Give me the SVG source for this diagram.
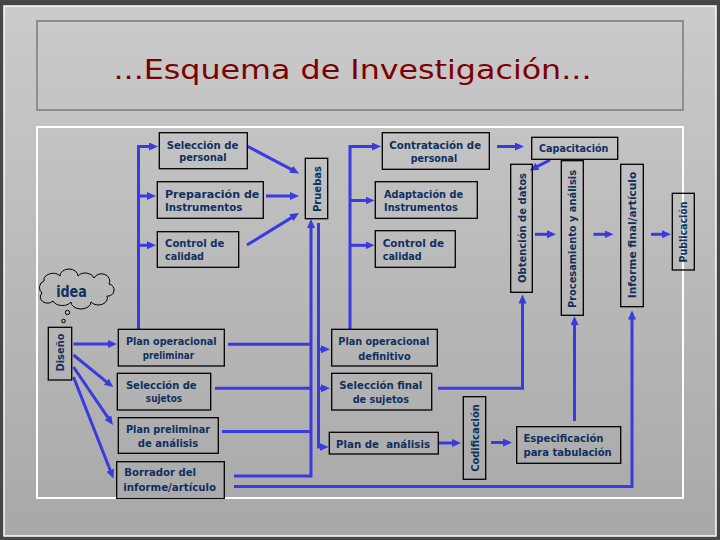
<svg xmlns="http://www.w3.org/2000/svg" width="720" height="540" viewBox="0 0 720 540">
<defs>
<linearGradient id="bg" x1="0" y1="0" x2="0" y2="1">
<stop offset="0" stop-color="#cbcbcb"/>
<stop offset="1" stop-color="#a8a8a8"/>
</linearGradient>
<marker id="ah" markerUnits="userSpaceOnUse" markerWidth="9" markerHeight="8" refX="5" refY="4" orient="auto">
<path d="M0,0 L9,4 L0,8 z" fill="#3a3ae0"/>
</marker>
<style>
.box{fill:none;stroke:#000;stroke-width:1.3}
.t{font-family:"DejaVu Sans","Liberation Sans",sans-serif;font-weight:bold;font-size:10.5px;fill:#10305e}
.c{stroke:#3a3ae0;stroke-width:3;fill:none}
.a{marker-end:url(#ah)}
</style>
</defs>
<rect x="0" y="0" width="720" height="540" fill="#474747"/>
<rect x="4" y="6" width="712" height="530" fill="url(#bg)" stroke="#ffffff" stroke-width="1.5"/>
<g id="title">
<rect x="37" y="21" width="646" height="89" fill="none" stroke="#8e8e8e" stroke-width="2"/>
<text x="352.5" y="79" text-anchor="middle" font-family="'DejaVu Sans',sans-serif" font-size="26" fill="#7d0000" textLength="478" lengthAdjust="spacingAndGlyphs">...Esquema de Investigación...</text>
</g>
<rect id="panel" x="37" y="127" width="646" height="371" fill="none" stroke="#ffffff" stroke-width="2"/>

<g id="connectors">
<path class="c a" d="M138.5,329 V146.5 H154"/>
<path class="c a" d="M138.5,196 H152"/>
<path class="c a" d="M138.5,245.3 H152"/>
<path class="c a" d="M247,146 L295.5,171.6"/>
<path class="c a" d="M266,196 H295"/>
<path class="c a" d="M247,245 L295.6,215.1"/>
<path class="c a" d="M234,476 H311 V223"/>
<path class="c" d="M228,344.3 H311"/>
<path class="c" d="M215,388.3 H311"/>
<path class="c" d="M222,431.5 H311"/>
<path class="c a" d="M318.5,223 V447 H324.5"/>
<path class="c a" d="M318.5,349.3 H326"/>
<path class="c a" d="M318.5,388.3 H326"/>
<path class="c a" d="M350,329 V146.5 H377"/>
<path class="c a" d="M350,200.5 H370.5"/>
<path class="c a" d="M350,245.3 H370.5"/>
<path class="c a" d="M497,146.5 H520"/>
<path class="c a" d="M550,160 L533.1,168.7"/>
<path class="c a" d="M535,234.3 H552"/>
<path class="c a" d="M593.5,234.3 H609.5"/>
<path class="c a" d="M651,234.3 H667"/>
<path class="c a" d="M438,388.3 H522.5 V298.5"/>
<path class="c a" d="M438,443 H457"/>
<path class="c a" d="M491,442.5 H508"/>
<path class="c a" d="M574.5,421 V320"/>
<path class="c a" d="M234,486.5 H632 V314.5"/>
<path class="c a" d="M73.5,344 H113"/>
<path class="c a" d="M73.5,355 L110.2,384.8"/>
<path class="c a" d="M73.5,367 L110.7,421.7"/>
<path class="c a" d="M73.5,377 L112,474.8"/>
</g>

<g id="idea">
<path d="M42,293 a7,7 0 0 1 2,-12 a9,7 0 0 1 16,-5 a9,7 0 0 1 18,0 a9,7 0 0 1 16,2 a8,7 0 0 1 15,6 a6,6 0 0 1 -2,12 a9,7 0 0 1 -16,6 a10,7 0 0 1 -20,0 a10,7 0 0 1 -18,-1 a7,6 0 0 1 -11,-8 z" fill="none" stroke="#000" stroke-width="1"/>
<circle cx="67.5" cy="312.5" r="2.2" fill="none" stroke="#000" stroke-width="1"/>
<circle cx="63.5" cy="321" r="1.8" fill="none" stroke="#000" stroke-width="1"/>
<text class="t" x="71.5" y="297" text-anchor="middle" font-size="15" textLength="30.7" lengthAdjust="spacingAndGlyphs" style="font-size:15px">idea</text>
</g>

<g id="n-diseno">
<rect class="box" x="48.3" y="327.3" width="23.4" height="52.7"/>
<text class="t" transform="translate(64,352.5) rotate(-90)" text-anchor="middle" textLength="38" lengthAdjust="spacingAndGlyphs">Diseño</text>
</g>

<g id="n-seleccion-personal">
<rect class="box" x="159.3" y="132.7" width="88" height="36"/>
<text class="t" x="202.5" y="148.5" text-anchor="middle" textLength="71.7" lengthAdjust="spacingAndGlyphs">Selección de</text>
<text class="t" x="203" y="161" text-anchor="middle" textLength="47.4" lengthAdjust="spacingAndGlyphs">personal</text>
</g>
<g id="n-preparacion">
<rect class="box" x="157.3" y="181.7" width="106" height="36.6"/>
<text class="t" x="165" y="197.5" textLength="94.3" lengthAdjust="spacingAndGlyphs">Preparación de</text>
<text class="t" x="165" y="210.8" textLength="77.3" lengthAdjust="spacingAndGlyphs">Instrumentos</text>
</g>
<g id="n-control1">
<rect class="box" x="157.3" y="231.7" width="81.4" height="35.6"/>
<text class="t" x="165" y="246.8" textLength="59.3" lengthAdjust="spacingAndGlyphs">Control de</text>
<text class="t" x="165" y="260" textLength="39" lengthAdjust="spacingAndGlyphs">calidad</text>
</g>
<g id="n-pruebas">
<rect class="box" x="305.3" y="158.3" width="22.4" height="60.4"/>
<text class="t" transform="translate(320.5,189) rotate(-90)" text-anchor="middle" textLength="46" lengthAdjust="spacingAndGlyphs">Pruebas</text>
</g>
<g id="n-contratacion">
<rect class="box" x="382.3" y="132.7" width="107" height="36.6"/>
<text class="t" x="435.2" y="148.5" text-anchor="middle" textLength="91.7" lengthAdjust="spacingAndGlyphs">Contratación de</text>
<text class="t" x="434" y="161.5" text-anchor="middle" textLength="46.6" lengthAdjust="spacingAndGlyphs">personal</text>
</g>
<g id="n-adaptacion">
<rect class="box" x="375.3" y="181.7" width="102" height="36.6"/>
<text class="t" x="384" y="197.5" textLength="79" lengthAdjust="spacingAndGlyphs">Adaptación de</text>
<text class="t" x="384" y="210.8" textLength="73.7" lengthAdjust="spacingAndGlyphs">Instrumentos</text>
</g>
<g id="n-control2">
<rect class="box" x="375.3" y="230.7" width="80" height="36.6"/>
<text class="t" x="382.7" y="246.5" textLength="61.3" lengthAdjust="spacingAndGlyphs">Control de</text>
<text class="t" x="382.7" y="259.8" textLength="39" lengthAdjust="spacingAndGlyphs">calidad</text>
</g>
<g id="n-capacitacion">
<rect class="box" x="531.7" y="137.3" width="86" height="22"/>
<text class="t" x="573.7" y="152.3" text-anchor="middle" textLength="69.3" lengthAdjust="spacingAndGlyphs">Capacitación</text>
</g>
<g id="n-obtencion">
<rect class="box" x="510.7" y="164.3" width="21.6" height="128"/>
<text class="t" transform="translate(525.5,228) rotate(-90)" text-anchor="middle" textLength="110" lengthAdjust="spacingAndGlyphs">Obtención de datos</text>
</g>
<g id="n-procesamiento">
<rect class="box" x="561.3" y="160.7" width="22" height="154.6"/>
<text class="t" transform="translate(576.3,239) rotate(-90)" text-anchor="middle" textLength="138" lengthAdjust="spacingAndGlyphs">Procesamiento y análisis</text>
</g>
<g id="n-informe">
<rect class="box" x="620.7" y="164.3" width="22.6" height="142.4"/>
<text class="t" transform="translate(636,235) rotate(-90)" text-anchor="middle" textLength="126.6" lengthAdjust="spacingAndGlyphs">Informe final/artículo</text>
</g>
<g id="n-publicacion">
<rect class="box" x="672.3" y="193.3" width="22" height="76.7"/>
<text class="t" transform="translate(687.3,232) rotate(-90)" text-anchor="middle" textLength="61" lengthAdjust="spacingAndGlyphs">Publicación</text>
</g>
<g id="n-plan-op-prelim">
<rect class="box" x="118.3" y="329.3" width="106" height="36.7"/>
<text class="t" x="171.3" y="345" text-anchor="middle" textLength="90.7" lengthAdjust="spacingAndGlyphs">Plan operacional</text>
<text class="t" x="168.4" y="359" text-anchor="middle" textLength="51.3" lengthAdjust="spacingAndGlyphs">preliminar</text>
</g>
<g id="n-seleccion-sujetos">
<rect class="box" x="117.3" y="373.3" width="93.4" height="36.7"/>
<text class="t" x="161.3" y="388.5" text-anchor="middle" textLength="70.7" lengthAdjust="spacingAndGlyphs">Selección de</text>
<text class="t" x="164" y="402" text-anchor="middle" textLength="36.3" lengthAdjust="spacingAndGlyphs">sujetos</text>
</g>
<g id="n-plan-prelim-analisis">
<rect class="box" x="118.3" y="417.7" width="100" height="35.6"/>
<text class="t" x="168" y="432.5" text-anchor="middle" textLength="84" lengthAdjust="spacingAndGlyphs">Plan preliminar</text>
<text class="t" x="168" y="446.5" text-anchor="middle" textLength="60.6" lengthAdjust="spacingAndGlyphs">de análisis</text>
</g>
<g id="n-borrador">
<rect class="box" x="116.7" y="461.7" width="107.6" height="36.6"/>
<text class="t" x="124.3" y="476" textLength="71.7" lengthAdjust="spacingAndGlyphs">Borrador del</text>
<text class="t" x="123.3" y="490.5" textLength="92.7" lengthAdjust="spacingAndGlyphs">informe/artículo</text>
</g>
<g id="n-plan-op-def">
<rect class="box" x="331.7" y="329.3" width="105.6" height="36.7"/>
<text class="t" x="383.8" y="345" text-anchor="middle" textLength="91" lengthAdjust="spacingAndGlyphs">Plan operacional</text>
<text class="t" x="384.5" y="359.5" text-anchor="middle" textLength="52.4" lengthAdjust="spacingAndGlyphs">definitivo</text>
</g>
<g id="n-seleccion-final">
<rect class="box" x="331.7" y="373.3" width="100" height="36.7"/>
<text class="t" x="380.8" y="388.5" text-anchor="middle" textLength="83" lengthAdjust="spacingAndGlyphs">Selección final</text>
<text class="t" x="380.8" y="402.5" text-anchor="middle" textLength="56.3" lengthAdjust="spacingAndGlyphs">de sujetos</text>
</g>
<g id="n-plan-analisis">
<rect class="box" x="329.3" y="432.3" width="109" height="21.7"/>
<text class="t" x="383" y="447.5" text-anchor="middle" textLength="94" lengthAdjust="spacingAndGlyphs" xml:space="preserve">Plan de  análisis</text>
</g>
<g id="n-codificacion">
<rect class="box" x="463.3" y="396.7" width="22.4" height="82.6"/>
<text class="t" transform="translate(478.5,438) rotate(-90)" text-anchor="middle" textLength="67.7" lengthAdjust="spacingAndGlyphs">Codificación</text>
</g>
<g id="n-especificacion">
<rect class="box" x="516.7" y="426.7" width="104" height="36.6"/>
<text class="t" x="523.5" y="441.5" textLength="80" lengthAdjust="spacingAndGlyphs">Especificación</text>
<text class="t" x="523.5" y="456" textLength="88.2" lengthAdjust="spacingAndGlyphs">para tabulación</text>
</g>
</svg>
